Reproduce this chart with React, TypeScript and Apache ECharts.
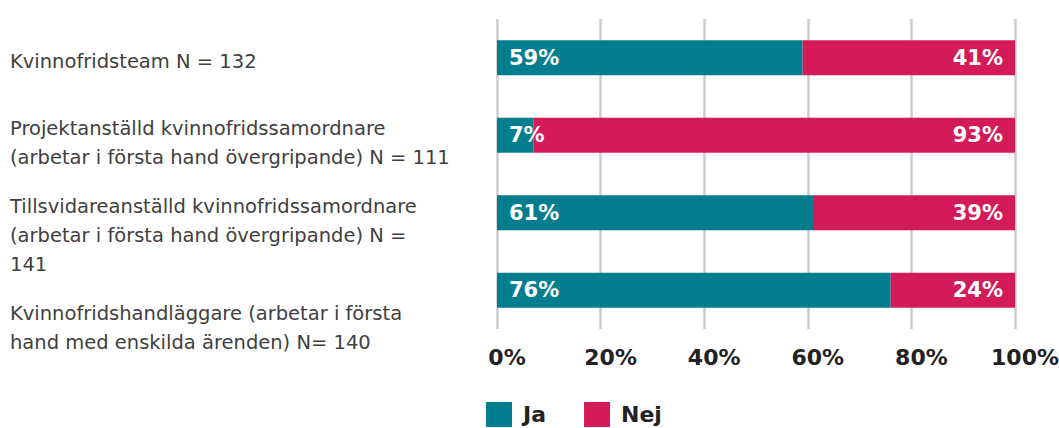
import React, { useEffect, useRef } from "react";
import * as echarts from "echarts";

const categories = [
  "Kvinnofridsteam N = 132",
  "Projektanställd kvinnofridssamordnare\n(arbetar i första hand övergripande) N = 111",
  "Tillsvidareanställd kvinnofridssamordnare\n(arbetar i första hand övergripande) N =\n141",
  "Kvinnofridshandläggare (arbetar i första\nhand med enskilda ärenden) N= 140",
];
const jaValues = [59, 7, 61, 76];
const nejValues = [41, 93, 39, 24];
const seriesNames = ["Ja", "Nej"];
// blank spacer line height above each category label (shifts label downward by half)
const labelSpacer = [7, 16, 45, 76];

const TEAL = "#047d8e";
const PINK = "#d41b5a";
const FONT = "'DejaVu Sans', 'Open Sans', sans-serif";

export default function App() {
  const ref = useRef<HTMLDivElement>(null);
  useEffect(() => {
    const chart = echarts.init(ref.current!, null, { renderer: "svg" });
    const rich: Record<string, any> = {
      t: { fontFamily: FONT, fontSize: 19.5, lineHeight: 29, color: "#404040" },
    };
    labelSpacer.forEach((h, i) => {
      rich["s" + i] = { fontSize: 1, lineHeight: h };
    });
    chart.setOption({
      animation: false,
      grid: { left: 497, right: 44, top: 19, bottom: 99, containLabel: false, outerBoundsMode: "none" },
      legend: {
        left: 486,
        top: 402,
        padding: 0,
        itemWidth: 26,
        itemHeight: 25,
        itemGap: 38,
        icon: "rect",
        textStyle: {
          fontFamily: FONT,
          fontWeight: "bold",
          fontSize: 22,
          color: "#222",
          padding: [0, 0, 0, 6],
        },
        data: seriesNames,
      },
      xAxis: {
        type: "value",
        min: 0,
        max: 100,
        interval: 20,
        axisLine: { show: false },
        axisTick: { show: false },
        splitLine: { show: true, lineStyle: { color: "#cccccc", width: 2.5 } },
        axisLabel: {
          formatter: "{value}%",
          fontFamily: FONT,
          fontWeight: "bold",
          fontSize: 22,
          color: "#222",
          margin: 17,
          padding: [0, 0, 0, 20],
        },
      },
      yAxis: {
        type: "category",
        inverse: true,
        data: categories,
        axisLine: { show: false },
        axisTick: { show: false },
        axisLabel: {
          interval: 0,
          align: "left",
          margin: 487,
          fontFamily: FONT,
          fontSize: 19.5,
          color: "#404040",
          formatter: (value: string, index: number) =>
            `{s${index}| }\n` +
            value
              .split("\n")
              .map((l) => `{t|${l}}`)
              .join("\n"),
          rich,
        },
      },
      series: [
        {
          name: seriesNames[0],
          type: "bar",
          stack: "total",
          barWidth: 35,
          itemStyle: { color: TEAL },
          label: {
            show: true,
            position: "insideLeft",
            distance: 12,
            formatter: "{c}%",
            color: "#fff",
            fontFamily: FONT,
            fontWeight: "bold",
            fontSize: 21,
          },
          data: jaValues,
        },
        {
          name: seriesNames[1],
          type: "bar",
          stack: "total",
          barWidth: 35,
          itemStyle: { color: PINK },
          label: {
            show: true,
            position: "insideRight",
            distance: 12,
            formatter: "{c}%",
            color: "#fff",
            fontFamily: FONT,
            fontWeight: "bold",
            fontSize: 21,
          },
          data: nejValues,
        },
      ],
    });
    return () => chart.dispose();
  }, []);
  return <div ref={ref} style={{ width: 1059, height: 428, position: "absolute", left: 0, top: 0 }} />;
}
